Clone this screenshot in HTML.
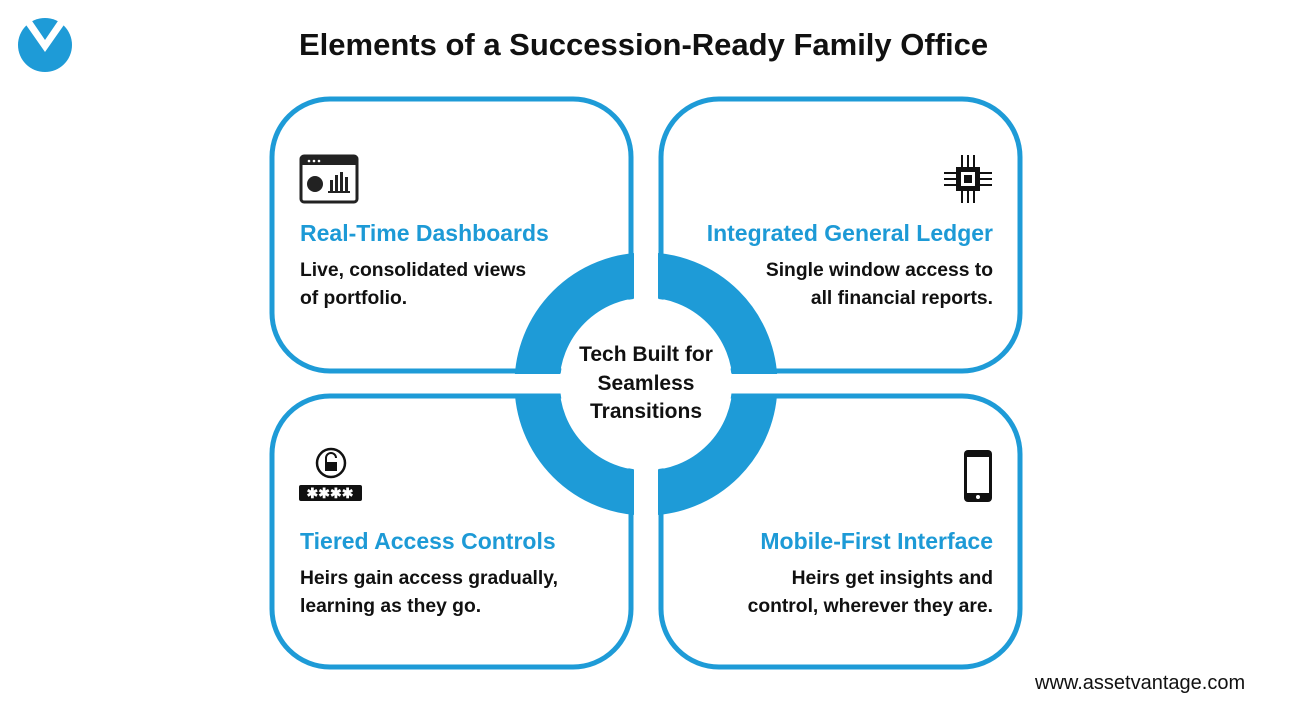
<!DOCTYPE html>
<html><head><meta charset="utf-8"><style>
body{margin:0;width:1293px;height:722px;background:#fff;position:relative;overflow:hidden;font-family:"Liberation Sans",sans-serif;}
.t{position:absolute;white-space:nowrap;font-weight:bold;}
.h{color:#1d9ad6;font-size:23px;}
.b{color:#111;font-size:19.3px;line-height:28px;}
</style></head><body>
<svg width="1293" height="722" style="position:absolute;left:0;top:0">
<circle cx="45" cy="45" r="27" fill="#1e9bd7"/>
<polygon points="30,18 45,40 60,18 66,22 45,52 24,22" fill="#fff"/>
<g fill="#fff" stroke="#1e9bd7" stroke-width="5">
<rect x="272" y="99" width="359" height="272" rx="58"/>
<rect x="661" y="99" width="359" height="272" rx="58"/>
<rect x="272" y="396" width="359" height="271" rx="58"/>
<rect x="661" y="396" width="359" height="271" rx="58"/>
</g>
<circle cx="646" cy="384" r="109" fill="none" stroke="#1e9bd7" stroke-width="45"/>
<rect x="634" y="250" width="24" height="270" fill="#fff"/>
<rect x="512" y="374" width="268" height="19.5" fill="#fff"/>
<circle cx="646" cy="384" r="86" fill="#fff"/>
<rect x="301" y="156" width="56" height="46" rx="3" fill="none" stroke="#222" stroke-width="3"/>
<rect x="301" y="156" width="56" height="9" fill="#222"/>
<circle cx="309" cy="161" r="1.3" fill="#fff"/><circle cx="314" cy="161" r="1.3" fill="#fff"/><circle cx="319" cy="161" r="1.3" fill="#fff"/>
<circle cx="315" cy="184" r="8" fill="#222"/>
<rect x="330" y="180" width="3" height="11" fill="#222"/><rect x="335" y="175" width="3" height="16" fill="#222"/><rect x="340" y="172" width="3" height="19" fill="#222"/><rect x="345" y="177" width="3" height="14" fill="#222"/>
<rect x="328" y="191" width="22" height="2" fill="#222"/>
<rect x="956" y="167" width="24" height="24" fill="#111"/>
<rect x="961" y="172" width="14" height="14" fill="#fff"/><rect x="964" y="175" width="8" height="8" fill="#111"/>
<g stroke="#111" stroke-width="2">
<line x1="962" y1="167" x2="962" y2="155"/><line x1="968" y1="167" x2="968" y2="155"/><line x1="974" y1="167" x2="974" y2="155"/>
<line x1="962" y1="191" x2="962" y2="203"/><line x1="968" y1="191" x2="968" y2="203"/><line x1="974" y1="191" x2="974" y2="203"/>
<line x1="956" y1="173" x2="944" y2="173"/><line x1="956" y1="179" x2="944" y2="179"/><line x1="956" y1="185" x2="944" y2="185"/>
<line x1="980" y1="173" x2="992" y2="173"/><line x1="980" y1="179" x2="992" y2="179"/><line x1="980" y1="185" x2="992" y2="185"/>
</g>
<circle cx="331" cy="463" r="14" fill="none" stroke="#111" stroke-width="2.5"/>
<path d="M326 462 v-4 a5 5 0 0 1 10 0" fill="none" stroke="#111" stroke-width="2"/>
<rect x="325" y="462" width="12" height="9" fill="#111"/>
<rect x="299" y="485" width="63" height="16" rx="2" fill="#111"/>
<text x="330" y="498" font-size="14" fill="#fff" text-anchor="middle" font-family="Liberation Sans" font-weight="bold">✱✱✱✱</text>
<rect x="964" y="450" width="28" height="52" rx="4" fill="#111"/>
<rect x="967" y="457" width="22" height="36" fill="#fff"/>
<circle cx="978" cy="497" r="2" fill="#fff"/>
</svg>
<div class="t" style="left:299px;top:27px;font-size:31px;color:#111">Elements of a Succession-Ready Family Office</div>
<div class="t h" style="left:300px;top:220px">Real-Time Dashboards</div>
<div class="t b" style="left:300px;top:257px">Live, consolidated views<br>of portfolio.</div>
<div class="t h" style="right:300px;top:220px;text-align:right">Integrated General Ledger</div>
<div class="t b" style="right:300px;top:257px;text-align:right">Single window access to<br>all financial reports.</div>
<div class="t h" style="left:300px;top:528px">Tiered Access Controls</div>
<div class="t b" style="left:300px;top:565px">Heirs gain access gradually,<br>learning as they go.</div>
<div class="t h" style="right:300px;top:528px;text-align:right">Mobile-First Interface</div>
<div class="t b" style="right:300px;top:565px;text-align:right">Heirs get insights and<br>control, wherever they are.</div>
<div class="t" style="left:546px;width:200px;top:341px;text-align:center;font-size:21px;line-height:28.5px;color:#111">Tech Built for<br>Seamless<br>Transitions</div>
<div class="t" style="left:1035px;top:672px;font-size:20px;font-weight:normal;color:#111">www.assetvantage.com</div>
</body></html>
